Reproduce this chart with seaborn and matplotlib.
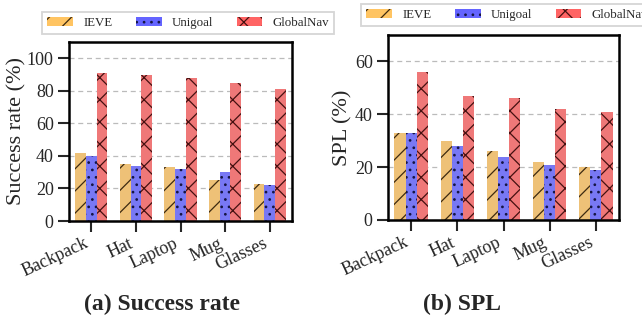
import pandas as pd
import numpy as np
import matplotlib
matplotlib.use("Agg")
import matplotlib.pyplot as plt
from matplotlib.patches import Patch
import seaborn as sns

# ========== data ==========
objects = ["Backpack", "Hat", "Laptop", "Mug", "Glasses"]
methods = ["IEVE", "Unigoal", "GlobalNav"]

sr_ieve = [42, 35, 33, 25, 23]
sr_unigoal = [40, 34, 32, 30, 22]
sr_globalnav = [91, 90, 88, 85, 81]

spl_ieve = [33, 30, 26, 22, 20]
spl_unigoal = [33, 28, 24, 21, 19]
spl_globalnav = [56, 47, 46, 42, 41]

colors = ["#EEC177", "#7878F4", "#EF7878"]
legend_colors = ["#FFC462", "#6464FF", "#FF6464"]
hatch_colors = ["#3d2a10", "#151545", "#451010"]
hatches = ["//", "...", "xx"]


def to_long(vals):
    rows = []
    for m, v in zip(methods, vals):
        for o, x in zip(objects, v):
            rows.append({"object": o, "method": m, "value": x})
    return pd.DataFrame(rows)


sr_df = to_long([sr_ieve, sr_unigoal, sr_globalnav])
spl_df = to_long([spl_ieve, spl_unigoal, spl_globalnav])

# ========== style ==========
# dpi 133 so the hatch spacing comes out close to the original; sizes scaled by S
DPI = 133
S = 100 / DPI
W, H = 642, 324

sns.set_style("white")
plt.rcParams["font.family"] = ["Liberation Serif", "DejaVu Serif"]
plt.rcParams["hatch.linewidth"] = 0.9 * S

fig = plt.figure(figsize=(W / DPI, H / DPI), dpi=DPI)
ax1 = fig.add_axes([69 / W, 103 / H, 223 / W, 179 / H])
ax2 = fig.add_axes([388 / W, 104 / H, 231 / W, 185 / H])


def draw(ax, df, ylabel, ylim, yticks, leg_xy, lpad):
    sns.barplot(data=df, x="object", y="value", hue="method", palette=colors,
                width=0.72, order=objects, hue_order=methods, ax=ax,
                errorbar=None, zorder=2, saturation=1)
    for cont, hc, h, c in zip(ax.containers, hatch_colors, hatches, legend_colors):
        for bar in cont:
            bar.set_hatch(h)
            bar.set_edgecolor(hc)
            bar.set_linewidth(0)
    ax.set_ylim(*ylim)
    ax.set_yticks(yticks)
    ax.set_xlim(-0.5, 4.5)
    ax.set_xlabel("")
    ax.set_ylabel(ylabel, fontsize=16 * S, labelpad=lpad * S)
    ax.yaxis.grid(True, linestyle=(0, (4, 3)), color="#bbbbbb", linewidth=0.9 * S, zorder=0)
    ax.set_axisbelow(True)
    for s in ax.spines.values():
        s.set_linewidth(1.8 * S)
        s.set_color("black")
    ax.tick_params(axis="both", direction="out", length=8 * S, width=1.5 * S,
                   labelsize=13 * S, pad=3 * S, bottom=True, left=True)
    ax.tick_params(axis="x", pad=2 * S)
    plt.setp(ax.get_xticklabels(), rotation=25, ha="right")

    handles = [Patch(facecolor=c, edgecolor=hc, hatch=h, linewidth=0)
               for c, hc, h in zip(legend_colors, hatch_colors, hatches)]
    ax.legend(handles=handles, labels=methods, loc="upper left",
              bbox_to_anchor=(leg_xy[0] / W, 1 - leg_xy[1] / H),
              bbox_transform=fig.transFigure, ncol=3, fontsize=9.3 * S,
              frameon=True, edgecolor="#cccccc", handlelength=2.0,
              handleheight=0.7, handletextpad=0.8, columnspacing=1.8,
              borderpad=0.4, borderaxespad=0, fancybox=False)


draw(ax1, sr_df, "Success rate (%)", (0, 110), [0, 20, 40, 60, 80, 100], (42, 12), 0)
draw(ax2, spl_df, "SPL (%)", (0, 70), [0, 20, 40, 60], (361, 4), 2)

fig.text(162 / W, 1 - 304 / H, "(a) Success rate", ha="center", va="center",
         fontsize=17 * S, fontweight="bold")
fig.text(462 / W, 1 - 304 / H, "(b) SPL", ha="center", va="center",
         fontsize=17 * S, fontweight="bold")

fig.savefig("out.png", dpi=DPI)
